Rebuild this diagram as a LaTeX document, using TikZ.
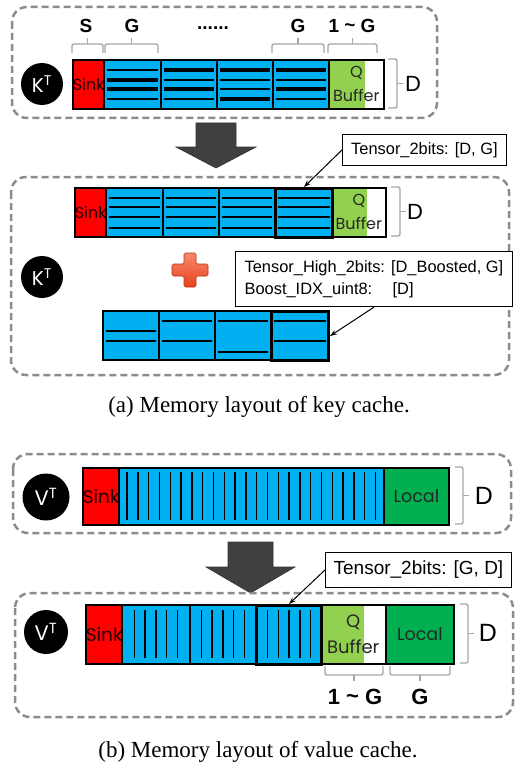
\documentclass[tikz,border=0pt]{standalone}
\usepackage{fontspec}
\setmainfont{Liberation Serif}
\newfontfamily\arialf{Liberation Sans}
\newfontfamily\gothic{Poppins}
\usetikzlibrary{calc,arrows.meta}
\definecolor{sinkred}{HTML}{FF0000}
\definecolor{blockblue}{HTML}{00B0F0}
\definecolor{qgreen}{HTML}{92D050}
\definecolor{locgreen}{HTML}{00B050}
\definecolor{dashgray}{HTML}{8C8C8C}
\definecolor{bracegray}{HTML}{A6A6A6}
\definecolor{arrowgray}{HTML}{404040}
\definecolor{plustop}{HTML}{F88A6C}
\definecolor{plusbot}{HTML}{E8401C}
\tikzset{
  panel/.style={draw=dashgray, line width=2.5pt, dash pattern=on 7pt off 4pt, rounded corners=15pt},
  cell/.style={draw=black, line width=1.6pt, anchor=north west, inner sep=0pt},
  sinkcell/.style={cell, fill=sinkred, text=black!85!red, font=\gothic\fontsize{16}{16}\selectfont},
  bluecell/.style={cell, fill=blockblue},
  boldcell/.style={cell, fill=blockblue, line width=3pt},
  qcell/.style={cell, fill=white, align=center, text=black!85, font=\gothic\fontsize{16}{24}\selectfont,
    path picture={\fill[qgreen] (path picture bounding box.north west) rectangle ($(path picture bounding box.south west)+(#1,0)$);}},
  loccell/.style={cell, fill=locgreen, text=black!85, font=\gothic\fontsize{17.5}{17.5}\selectfont},
  brace/.style={draw=bracegray, line width=1.4pt, rounded corners=2pt},
  toplbl/.style={font=\arialf\bfseries\fontsize{19}{19}\selectfont},
  dlbl/.style={font=\arialf\fontsize{22}{22}\selectfont},
  callout/.style={draw=black, fill=white, line width=0.9pt, anchor=north west, font=\arialf\fontsize{16.4}{22}\selectfont, align=left},
  circ/.style={circle, fill=black, text=white, inner sep=0pt, font=\gothic\fontsize{20}{20}\selectfont},
  capt/.style={font=\fontsize{23}{23}\selectfont},
  bigarrow/.style={fill=arrowgray, draw=arrowgray!80!black, line width=0.6pt},
  pointer/.style={draw=black, line width=1pt, -{Stealth[length=7pt,width=5pt]}}
}
\begin{document}
\begin{tikzpicture}[x=1pt,y=-1pt]
\useasboundingbox (0,0) rectangle (516,765);

% ================= (a) top panel =================
\draw[panel] (12,7) rectangle (437,118);
\node[circ, minimum size=42pt] (kc1) at (42,84) {K\textsuperscript{T}};
\node[sinkcell, minimum width=31, minimum height=49] (k0) at (72,59) {Sink};
\node[bluecell, minimum width=57, minimum height=49] (k1) at (103,59) {};
\node[bluecell, minimum width=56, minimum height=49] (k2) at (160,59) {};
\node[bluecell, minimum width=56, minimum height=49] (k3) at (216,59) {};
\node[bluecell, minimum width=56, minimum height=49] (k4) at (272,59) {};
\node[qcell=36, minimum width=55, minimum height=49] (kq) at (328,59) {Q\\Buffer};
\foreach \n/\a/\b/\c/\d in {k1/1.3/3.2/3.2/1.3, k2/3.2/1.3/3.2/1.3, k3/3.2/1.3/1.3/3.2, k4/3.2/1.3/3.2/1.3}{
  \draw[line width=\a pt] ($(\n.north west)+(4,11)$) -- ($(\n.north east)+(-4,11)$);
  \draw[line width=\b pt] ($(\n.north west)+(4,21)$) -- ($(\n.north east)+(-4,21)$);
  \draw[line width=\c pt] ($(\n.north west)+(4,30)$) -- ($(\n.north east)+(-4,30)$);
  \draw[line width=\d pt] ($(\n.north west)+(4,40)$) -- ($(\n.north east)+(-4,40)$);
}
% top braces
\foreach \xa/\xb in {72/103, 105/158, 272/324, 328/377}{
  \draw[brace] (\xa,53) -- (\xa,44) -- (\xb,44) -- (\xb,53);
  \draw[brace] ({(\xa+\xb)/2},44) -- ({(\xa+\xb)/2},38);
}
\node[toplbl] (ls) at (86,26) {S};
\node[toplbl] (lg1) at (132,26) {G};
\node[toplbl] (ldots) at (213,28) {......};
\node[toplbl] (lg2) at (298,26) {G};
\node[toplbl] (lg3) at (352,26) {1 \raisebox{1pt}{\textasciitilde} G};
% right brace
\draw[brace] (388,59) -- (397,59) -- (397,108) -- (388,108);
\draw[brace] (397,83.5) -- (403,83.5);
\node[dlbl] (d1) at (413,84) {D};

% big arrow 1
\draw[bigarrow] (196,123) -- (236,123) -- (236,147) -- (256,147) -- (216,168) -- (176,147) -- (196,147) -- cycle;

% ================= (a) second panel =================
\draw[panel] (11,177) rectangle (509,375);
\node[circ, minimum size=42pt] (kc2) at (42,277) {K\textsuperscript{T}};
\node[sinkcell, minimum width=31, minimum height=49] (m0) at (74,187) {Sink};
\node[bluecell, minimum width=57, minimum height=49] (m1) at (105,187) {};
\node[bluecell, minimum width=56, minimum height=49] (m2) at (162,187) {};
\node[bluecell, minimum width=56, minimum height=49] (m3) at (218,187) {};
\node[qcell=35, minimum width=54, minimum height=49] (mq) at (331,187) {Q\\Buffer};
\node[boldcell, minimum width=57, minimum height=49] (m4) at (274,187) {};
\foreach \n in {m1,m2,m3,m4}{
  \foreach \o in {11,20,30,41}{
    \draw[line width=1.3pt] ($(\n.north west)+(4,\o)$) -- ($(\n.north east)+(-4,\o)$);
  }
}
\draw[brace] (391,187) -- (400,187) -- (400,236) -- (391,236);
\draw[brace] (400,211.5) -- (406,211.5);
\node[dlbl] (d2) at (415,212) {D};

% plus sign
\shade[top color=plustop, bottom color=plusbot, draw=plusbot!80!black, line width=0.6pt, rounded corners=1.5pt]
  (184,253) -- (196,253) -- (196,264) -- (208,264) -- (208,276) -- (196,276) -- (196,287) -- (184,287)
  -- (184,276) -- (172,276) -- (172,264) -- (184,264) -- cycle;

% bottom (boost) row
\node[bluecell, minimum width=56, minimum height=49] (b1) at (102,310) {};
\node[bluecell, minimum width=56, minimum height=49] (b2) at (158,310) {};
\node[bluecell, minimum width=56, minimum height=49] (b3) at (214,310) {};
\node[boldcell, minimum width=57, minimum height=49] (b4) at (270,310) {};
\foreach \n/\a/\b in {b1/21/31, b2/11/31, b3/11/42, b4/11/31}{
  \draw[line width=1.3pt] ($(\n.north west)+(4,\a)$) -- ($(\n.north east)+(-4,\a)$);
  \draw[line width=1.3pt] ($(\n.north west)+(4,\b)$) -- ($(\n.north east)+(-4,\b)$);
}

% callouts (a)
\node[callout, minimum width=164, minimum height=31, align=center, inner sep=0pt] (c1) at (342,134) {Tensor\_2bits: [D, G]};
\draw[pointer] (c1.west) -- (m4.north);
\node[callout, minimum width=277, minimum height=51, inner sep=9pt] (c2) at (235,251)
  {Tensor\_High\_2bits: [D\_Boosted, G]\\\makebox[148pt][l]{Boost\_IDX\_uint8:}[D]};
\draw[pointer] (c2.south) -- (b4.east);

\node[capt] (capa) at (259,407) {(a) Memory layout of key cache.};

% ================= (b) first panel =================
\draw[panel] (13,454) rectangle (511,533);
\node[circ, minimum size=47pt, font=\gothic\fontsize{21}{21}\selectfont] (vc1) at (46,497) {V\textsuperscript{T}};
\node[sinkcell, minimum width=36, minimum height=57, font=\gothic\fontsize{18.5}{18.5}\selectfont] (v0) at (82,467) {Sink};
\node[bluecell, minimum width=265, minimum height=57] (vb) at (118,467) {};
\node[loccell, minimum width=65, minimum height=57] (vl) at (383,467) {Local};
\foreach \i in {0,...,23}{
  \draw[line width=1.4pt] ({127+\i*10.8},472) -- ({127+\i*10.8},520);
}
\draw[brace] (455,467) -- (463,467) -- (463,524) -- (455,524);
\draw[brace] (463,495.5) -- (469,495.5);
\node[dlbl, font=\arialf\fontsize{25}{25}\selectfont] (d3) at (484,496) {D};

% big arrow 2
\draw[bigarrow] (228,542) -- (273,542) -- (273,567) -- (295,567) -- (250.5,593) -- (206,567) -- (228,567) -- cycle;

% ================= (b) second panel =================
\draw[panel] (15,593) rectangle (513,717);
\node[circ, minimum size=44pt, font=\gothic\fontsize{21}{21}\selectfont] (vc2) at (46,632) {V\textsuperscript{T}};
\node[sinkcell, minimum width=36, minimum height=59, font=\gothic\fontsize{18.5}{18.5}\selectfont] (w0) at (85,604) {Sink};
\node[bluecell, minimum width=68, minimum height=59] (w1) at (121,604) {};
\node[bluecell, minimum width=66, minimum height=59] (w2) at (189,604) {};
\node[qcell=43, minimum width=65, minimum height=59, font=\gothic\fontsize{18}{26}\selectfont] (wq) at (320,604) {Q\\Buffer};
\node[loccell, minimum width=68, minimum height=59] (wl) at (385,604) {Local};
\node[boldcell, minimum width=65, minimum height=59] (w3) at (255,604) {};
\foreach \n in {w1,w2,w3}{
  \foreach \o in {0,...,4}{
    \draw[line width=1.4pt] ($(\n.north)+({(\o-2)*10.8},6)$) -- ($(\n.north)+({(\o-2)*10.8},54)$);
  }
}
\draw[brace] (460,604) -- (468,604) -- (468,663) -- (460,663);
\draw[brace] (468,633.5) -- (474,633.5);
\node[dlbl, font=\arialf\fontsize{25}{25}\selectfont] (d4) at (488,633) {D};
% bottom braces
\foreach \xa/\xb in {325/383, 390/450}{
  \draw[brace] (\xa,666) -- (\xa,675) -- (\xb,675) -- (\xb,666);
  \draw[brace] ({(\xa+\xb)/2},675) -- ({(\xa+\xb)/2},681);
}
\node[toplbl, font=\arialf\bfseries\fontsize{22}{22}\selectfont] (lg4) at (355,697) {1 \raisebox{1pt}{\textasciitilde} G};
\node[toplbl, font=\arialf\bfseries\fontsize{22}{22}\selectfont] (lg5) at (420,697) {G};

% callout (b)
\node[callout, minimum width=186, minimum height=35, align=center, inner sep=0pt, font=\arialf\fontsize{19}{19}\selectfont] (c3) at (325,552) {Tensor\_2bits: [G, D]};
\draw[pointer] (c3.west) -- (w3.north);

\node[capt] (capb) at (258,752) {(b) Memory layout of value cache.};
\end{tikzpicture}
\end{document}
